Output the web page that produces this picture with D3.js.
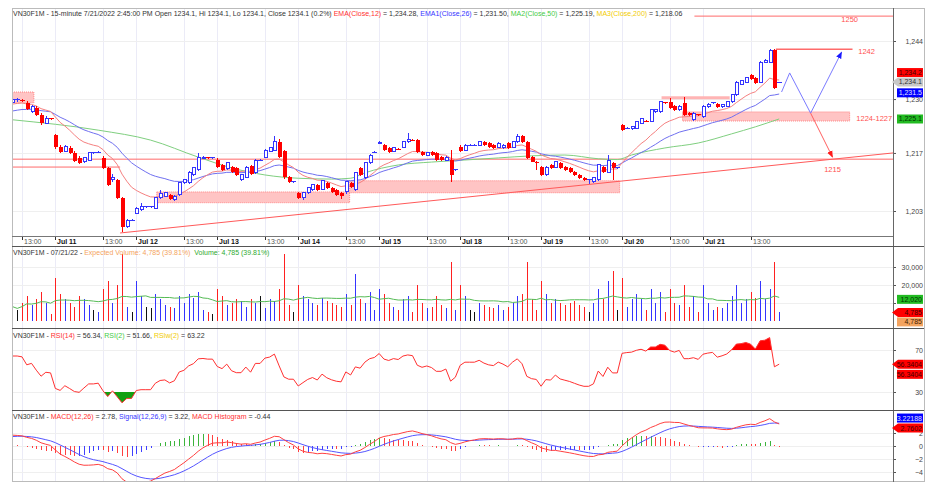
<!DOCTYPE html>
<html>
<head>
<meta charset="utf-8">
<script src="https://cdn.jsdelivr.net/npm/d3@7"></script>
<style>
  body { margin: 0; background: #fff; }
  svg { display: block; font-family: "Liberation Sans", Arial, sans-serif; }
  text { white-space: pre; }
</style>
</head>
<body>
<div id="chart"></div>
<script>
// 15-minute bars, Jul 8 11:00 .. Jul 21 14:45 (17 bars per session)
const opens = [
  1229.1, 1229.8, 1229.6, 1229.1, 1226.9, 1227.8, 1226.2, 1224.2, 1225.2,
  1221.3, 1218.4, 1217.4, 1218.2, 1217.0, 1215.8, 1214.9, 1215.3, 1217.0, 1217.2, 1215.8, 1213.4, 1210.5, 1210.5, 1206.2, 1199.2, 1200.8,
  1202.5, 1203.3, 1204.0, 1204.0, 1203.7, 1206.2, 1206.6, 1206.9, 1205.7, 1206.9, 1209.8, 1209.8, 1211.7, 1212.9, 1215.8, 1215.8, 1215.8,
  1215.3, 1214.1, 1213.2, 1213.6, 1213.4, 1210.5, 1211.2, 1213.9, 1212.2, 1215.3, 1216.0, 1217.4, 1217.7, 1219.7, 1217.5, 1211.2, 1210.0,
  1207.4, 1206.2, 1207.4, 1208.1, 1209.3, 1208.3, 1209.8, 1208.6, 1208.1, 1207.4, 1207.7, 1209.8, 1208.1, 1213.4, 1211.0, 1214.6, 1217.2,
  1219.4, 1218.9, 1218.2, 1217.4, 1217.9, 1218.4, 1219.7, 1220.1, 1220.1, 1217.2, 1216.5, 1217.2, 1217.0, 1216.0, 1215.3, 1215.3, 1212.9,
  1218.4, 1217.7, 1218.9, 1218.9, 1218.9, 1219.7, 1219.4, 1218.9, 1218.4, 1218.2, 1219.4, 1218.4, 1219.7, 1221.1, 1219.7, 1216.0, 1214.9,
  1213.6, 1211.7, 1214.1, 1213.6, 1214.6, 1213.6, 1213.4, 1212.4, 1211.7, 1211.0, 1210.5, 1210.0, 1210.5, 1213.6, 1212.4, 1214.6, 1213.4,
  1223.7, 1223.0, 1222.8, 1223.0, 1224.2, 1224.7, 1224.7, 1226.9, 1226.9, 1229.1, 1229.3, 1228.3, 1227.4, 1229.1, 1226.6, 1225.0, 1226.2,
  1225.7, 1228.1, 1229.1, 1228.8, 1228.1, 1228.3, 1229.3, 1231.0, 1233.6, 1234.1, 1235.8, 1235.1, 1234.1, 1238.9, 1238.9, 1241.8, 1234.1
];
const highs = [
  1230.3, 1230.3, 1230.1, 1229.6, 1228.6, 1228.3, 1226.6, 1225.9, 1225.4,
  1221.5, 1218.9, 1218.9, 1218.6, 1217.4, 1216.2, 1216.0, 1217.2, 1217.2, 1217.4, 1216.2, 1213.6, 1211.9, 1210.8, 1206.4, 1201.0, 1201.0,
  1204.0, 1205.0, 1204.3, 1204.2, 1206.4, 1208.0, 1207.6, 1207.2, 1206.9, 1210.0, 1210.8, 1212.6, 1213.6, 1217.0, 1216.2, 1216.0, 1216.0,
  1215.8, 1214.3, 1214.8, 1213.9, 1213.6, 1211.9, 1213.9, 1214.1, 1215.6, 1215.6, 1218.0, 1218.4, 1221.0, 1220.3, 1217.7, 1211.4, 1210.2,
  1207.6, 1207.6, 1208.8, 1209.5, 1209.5, 1210.5, 1210.0, 1208.8, 1208.3, 1207.6, 1210.3, 1210.0, 1212.4, 1213.6, 1214.8, 1216.7, 1217.4,
  1219.9, 1219.2, 1218.4, 1218.4, 1218.1, 1219.9, 1221.8, 1220.3, 1220.3, 1217.4, 1217.2, 1217.4, 1217.2, 1216.2, 1216.2, 1217.7, 1213.1,
  1218.9, 1219.2, 1219.1, 1219.1, 1220.0, 1219.9, 1219.6, 1219.1, 1219.6, 1219.1, 1219.6, 1219.9, 1221.5, 1221.3, 1219.9, 1216.2, 1215.1,
  1213.9, 1213.9, 1214.3, 1215.1, 1214.8, 1213.8, 1213.6, 1212.6, 1211.9, 1211.2, 1210.7, 1211.2, 1214.3, 1213.8, 1216.5, 1214.8, 1213.6,
  1224.0, 1223.2, 1223.5, 1224.7, 1225.4, 1224.9, 1227.6, 1227.6, 1229.5, 1229.3, 1230.3, 1228.5, 1228.5, 1230.5, 1226.8, 1226.8, 1226.4,
  1228.5, 1229.0, 1229.3, 1229.0, 1228.8, 1229.5, 1231.2, 1234.3, 1234.6, 1235.3, 1236.0, 1235.3, 1239.1, 1239.6, 1242.1, 1242.1, 1234.1
];
const lows = [
  1228.8, 1229.3, 1229.3, 1227.4, 1226.6, 1225.9, 1223.8, 1224.0, 1225.0,
  1218.0, 1216.9, 1217.2, 1216.7, 1214.8, 1214.3, 1214.6, 1215.1, 1216.7, 1216.9, 1213.1, 1209.0, 1210.0, 1205.9, 1198.0, 1198.8, 1200.6,
  1202.3, 1203.1, 1203.8, 1203.8, 1203.5, 1206.0, 1206.4, 1205.7, 1205.5, 1206.6, 1209.5, 1209.5, 1211.5, 1212.7, 1215.6, 1215.6, 1215.6,
  1213.4, 1212.7, 1213.0, 1212.2, 1211.5, 1210.3, 1211.0, 1211.7, 1212.0, 1215.1, 1215.8, 1217.2, 1217.5, 1215.8, 1210.8, 1209.8, 1209.8,
  1206.0, 1205.7, 1207.2, 1207.9, 1207.9, 1208.1, 1208.4, 1207.4, 1206.7, 1206.0, 1207.2, 1208.6, 1207.9, 1211.5, 1210.8, 1214.4, 1217.0,
  1219.2, 1217.5, 1217.0, 1217.2, 1217.7, 1218.2, 1219.5, 1219.9, 1217.0, 1216.3, 1216.3, 1216.3, 1215.1, 1215.1, 1215.1, 1210.0, 1212.7,
  1217.2, 1217.5, 1218.7, 1218.7, 1218.7, 1218.7, 1218.2, 1218.0, 1218.2, 1218.0, 1218.0, 1218.2, 1219.5, 1219.5, 1215.6, 1214.7, 1212.9,
  1211.5, 1211.5, 1213.2, 1213.4, 1213.2, 1212.7, 1212.2, 1211.5, 1210.8, 1210.3, 1209.5, 1209.8, 1210.3, 1212.2, 1212.2, 1210.5, 1213.2,
  1222.3, 1222.8, 1222.6, 1222.8, 1224.0, 1224.5, 1224.5, 1226.7, 1226.7, 1228.9, 1227.6, 1227.2, 1227.2, 1226.0, 1226.0, 1224.8, 1226.0,
  1225.5, 1227.9, 1228.9, 1227.9, 1227.9, 1228.1, 1229.1, 1230.8, 1233.4, 1233.9, 1234.6, 1233.7, 1233.9, 1238.7, 1238.7, 1232.4, 1234.1
];
const closes = [
  1229.8, 1229.8, 1229.6, 1227.6, 1228.1, 1226.2, 1224.2, 1225.4, 1225.2,
  1218.4, 1217.2, 1218.6, 1217.0, 1215.1, 1214.6, 1215.8, 1217.0, 1217.0, 1217.2, 1213.4, 1209.3, 1211.0, 1206.2, 1199.2, 1200.8, 1200.8,
  1203.7, 1204.0, 1204.0, 1204.0, 1206.2, 1207.2, 1207.4, 1205.9, 1206.6, 1209.8, 1210.5, 1212.4, 1213.4, 1215.8, 1216.0, 1215.8, 1215.8,
  1213.6, 1212.9, 1214.6, 1212.4, 1211.7, 1211.7, 1213.6, 1211.9, 1215.3, 1215.3, 1217.7, 1218.2, 1219.7, 1216.0, 1211.2, 1210.0, 1210.0,
  1206.2, 1207.4, 1208.6, 1209.3, 1208.1, 1210.3, 1208.6, 1207.6, 1206.9, 1206.6, 1210.1, 1208.8, 1212.2, 1211.7, 1214.6, 1216.5, 1217.2,
  1219.6, 1217.7, 1217.2, 1218.2, 1217.9, 1219.7, 1220.3, 1220.1, 1217.2, 1216.5, 1217.0, 1216.5, 1215.3, 1215.3, 1216.0, 1211.7, 1212.9,
  1217.4, 1218.9, 1218.9, 1218.9, 1219.7, 1218.9, 1218.4, 1218.2, 1219.4, 1218.9, 1218.2, 1219.7, 1220.9, 1219.7, 1215.8, 1214.9, 1214.6,
  1211.7, 1213.6, 1213.4, 1214.9, 1213.4, 1212.9, 1212.4, 1211.7, 1211.0, 1210.5, 1210.5, 1211.0, 1214.1, 1212.4, 1215.3, 1213.4, 1213.4,
  1222.5, 1223.0, 1223.3, 1224.5, 1225.2, 1224.7, 1227.4, 1227.4, 1229.3, 1229.1, 1227.8, 1227.4, 1228.3, 1226.2, 1226.2, 1226.6, 1226.2,
  1228.3, 1228.8, 1229.1, 1228.1, 1228.6, 1229.3, 1231.0, 1234.1, 1234.4, 1235.1, 1234.8, 1233.9, 1238.9, 1239.4, 1241.6, 1232.7, 1234.1
];
const volumes = [
  8000, 6000, 10000, 14000, 9000, 12000, 16000, 10000, 4000,
  24000, 15000, 12000, 10000, 8000, 14000, 12000, 9000, 6000, 5000, 18000, 22000, 10000, 20000, 37000, 8000, 5000,
  22000, 14000, 8000, 7000, 15000, 12000, 9000, 8000, 7000, 14000, 10000, 15000, 13000, 16000, 6000, 5000, 4000,
  18000, 14000, 9000, 10000, 12000, 11000, 8000, 12000, 10000, 14000, 7000, 12000, 11000, 18000, 37000, 9000, 5000,
  20000, 14000, 12000, 10000, 9000, 13000, 11000, 10000, 9000, 8000, 15000, 9000, 26000, 12000, 10000, 16000, 6000,
  18000, 15000, 10000, 8000, 6000, 12000, 14000, 5000, 20000, 10000, 7000, 8000, 14000, 9000, 7000, 33000, 6000,
  20000, 14000, 6000, 5000, 10000, 9000, 8000, 7000, 9000, 6000, 8000, 10000, 14000, 15000, 33000, 12000, 6000,
  22000, 15000, 10000, 12000, 10000, 9000, 10000, 11000, 9000, 8000, 5000, 10000, 18000, 12000, 22000, 28000, 6000,
  24000, 8000, 12000, 15000, 12000, 6000, 18000, 10000, 16000, 5000, 18000, 10000, 9000, 20000, 8000, 14000, 5000,
  20000, 10000, 6000, 8000, 7000, 10000, 14000, 20000, 10000, 12000, 16000, 13000, 22000, 12000, 18000, 33000, 4785
];
// time axis labels: bar index, text, bold
const timeTicks = [
  [2, '13:00', 0], [9, 'Jul 11', 1], [19, '13:00', 0], [26, 'Jul 12', 1], [36, '13:00', 0],
  [43, 'Jul 13', 1], [53, '13:00', 0], [60, 'Jul 14', 1], [70, '13:00', 0], [77, 'Jul 15', 1],
  [87, '13:00', 0], [94, 'Jul 18', 1], [104, '13:00', 0], [111, 'Jul 19', 1], [121, '13:00', 0],
  [128, 'Jul 20', 1], [138, '13:00', 0], [145, 'Jul 21', 1], [155, '13:00', 0]
];
const priceTicks = [1203, 1217, 1230, 1244];
const volTicks = [10000, 20000, 30000];
const volTickText = [20000, 30000];   // 10,000 sits under the MA tag
const rsiTicks = [30, 70];
const macdTicks = [-4, -2, 0, 2];
// MA2(Close,50): [bar, value]
const ma50Pts = [
  [0, 1225.0], [18, 1222.5], [29, 1220.1], [39, 1216.0], [46, 1213.4], [53, 1211.7], [60, 1210.9],
  [67, 1210.7], [71, 1210.9], [74, 1212.2], [81, 1214.1], [88, 1214.8], [95, 1215.3], [102, 1215.8],
  [109, 1216.3], [116, 1216.5], [123, 1215.6], [127, 1215.4], [130, 1216.5], [137, 1218.2],
  [144, 1219.4], [151, 1221.6], [156, 1223.3], [161, 1225.2]
];
// indicator starting values read at the left edge
const ema12Start = 1228.6, ema26Start = 1226.9, signalStart = 1.4;
const rsiStartGain = 0.9, rsiStartLoss = 0.5;
// drawn annotations
const zones = [[-0.1, 4.5, 1229.1, 1231.7], [30.3, 70.8, 1205.0, 1207.6], [70.8, 127.5, 1207.4, 1210.3], [140.7, 175.8, 1224.7, 1226.9]];
const levels = [[143.2, 184.9, 1250.0, 1], [160.3, 176.4, 1242.0, 2], [136.3, 150.6, 1230.3, 3], [-0.1, 184.9, 1215.5, 1], [-0.1, 22.6, 1213.6, 1]];
const trendLine = [[22.6, 1197.7], [184.9, 1217.0]];
const blueZigzag = [[161.5, 1231.7], [163.2, 1236.3], [167.6, 1226.6], [174.1, 1241.3]];
const redArrow = [[167.6, 1226.6], [172.2, 1216.0]];
const levelLabels = [[175.8, 1249.2, '1250', 'middle'], [177.6, 1241.6, '1242', 'start'], [177.2, 1225.4, '1224-1227', 'start'], [172.2, 1213.0, '1215', 'middle']];

const W = 930, H = 483, L = 12, R = 893;
const n = closes.length;
const svg = d3.select('#chart').append('svg').attr('width', W).attr('height', H);

const x = d3.scaleLinear().domain([-0.1, 184.9]).range([L, R]);
const yP = d3.scaleLinear().domain([1203, 1244]).range([211, 41]);
const yV = d3.scaleLinear().domain([0, 30000]).range([321, 267]);
const yR = d3.scaleLinear().domain([30, 70]).range([392, 350]);
const yM = d3.scaleLinear().domain([-4, 2]).range([472, 433]);
const panels = [
  {id: 'pm', top: 9, bottom: 236, y: yP, ticks: priceTicks, labels: priceTicks, fmt: d3.format(',')},
  {id: 'pv', top: 246, bottom: 328, y: yV, ticks: volTicks, labels: volTickText, fmt: d3.format(',')},
  {id: 'pr', top: 328, bottom: 410, y: yR, ticks: rsiTicks, labels: rsiTicks, fmt: d3.format('d')},
  {id: 'pd', top: 410, bottom: 481, y: yM, ticks: macdTicks, labels: macdTicks, fmt: d3.format('d')}
];

// indicators
const ema = (vals, len, start) => {
  const k = 2 / (len + 1)
  let e = start
  return vals.map(v => (e = e + k * (v - e)))
}
const ema12 = ema(closes, 12, ema12Start)
const ema26 = ema(closes, 26, ema26Start)
const macd = ema12.map((v, i) => v - ema26[i])
const signal = ema(macd, 9, signalStart)
const hist = macd.map((v, i) => v - signal[i])
let ag = rsiStartGain, al = rsiStartLoss
const rsi = closes.map((c, i) => {
  const ch = i === 0 ? 0 : c - closes[i - 1]
  ag = (ag * 13 + Math.max(ch, 0)) / 14
  al = (al * 13 + Math.max(-ch, 0)) / 14
  return 100 - 100 / (1 + ag / al)
})
const volMa = volumes.map((v, i) => d3.mean(volumes.slice(Math.max(0, i - 19), i + 1)))

// frame, grid, clip paths
const defs = svg.append('defs')
panels.forEach(p => {
  defs.append('clipPath').attr('id', 'c' + p.id).append('rect')
    .attr('x', L).attr('y', p.top).attr('width', R - L).attr('height', p.bottom - p.top)
  const g = svg.append('g')
  timeTicks.forEach(t => {
    g.append('line').attr('x1', Math.round(x(t[0])) + 0.5).attr('x2', Math.round(x(t[0])) + 0.5)
      .attr('y1', p.top).attr('y2', p.bottom).attr('stroke', '#ebebf7')
  })
  p.ticks.forEach(v => {
    g.append('line').attr('x1', L).attr('x2', R).attr('y1', Math.round(p.y(v)) + 0.5).attr('y2', Math.round(p.y(v)) + 0.5)
      .attr('stroke', '#efefef')
  })
  const ax = d3.axisRight(p.y).tickValues(p.ticks).tickSize(3)
    .tickFormat(v => p.labels.includes(v) ? p.fmt(v) : '')
  const ag2 = svg.append('g').attr('transform', `translate(${R},0)`).call(ax)
  ag2.select('.domain').remove()
  ag2.selectAll('line').attr('stroke', '#555')
  ag2.selectAll('text').attr('x', 30).attr('text-anchor', 'end').attr('fill', '#444')
    .style('font-size', '7px').attr('dy', '0.32em')
  ag2.selectAll('text').filter(function () { return this.textContent === '' }).remove()
})

const main = svg.append('g').attr('clip-path', 'url(#cpm)')

// zones and level lines
main.selectAll('rect.zone').data(zones).enter().append('rect')
  .attr('x', d => x(d[0])).attr('width', d => x(d[1]) - x(d[0]))
  .attr('y', d => yP(d[3])).attr('height', d => yP(d[2]) - yP(d[3]))
  .attr('fill', '#ffc4c4').attr('stroke', '#ff7070').attr('stroke-dasharray', '1,1').attr('stroke-width', 0.8)
main.selectAll('line.lvl').data(levels).enter().append('line')
  .attr('x1', d => x(d[0])).attr('x2', d => x(d[1]))
  .attr('y1', d => yP(d[2])).attr('y2', d => yP(d[2]))
  .attr('stroke', d => d[3] === 3 ? '#ffb4b4' : '#ff6a6a')
  .attr('stroke-width', d => d[3] === 1 ? 1 : d[3] === 2 ? 1.6 : 3)

// moving averages
const lineGen = (arr) => d3.line().x((d, i) => x(i)).y(d => yP(d))(arr)
main.append('path').attr('d', d3.line().x(d => x(d[0])).y(d => yP(d[1])).curve(d3.curveMonotoneX)(ma50Pts))
  .attr('fill', 'none').attr('stroke', '#7fcf7f').attr('stroke-width', 1)
main.append('path').attr('d', lineGen(ema26)).attr('fill', 'none').attr('stroke', '#7070f0').attr('stroke-width', 1)
main.append('path').attr('d', lineGen(ema12)).attr('fill', 'none').attr('stroke', '#f58080').attr('stroke-width', 1)

// candles
const dir = i => closes[i] > opens[i] ? 1 : closes[i] < opens[i] ? -1 : 0
const trend = i => dir(i) !== 0 ? dir(i) : (i > 0 ? Math.sign(closes[i] - closes[i - 1]) : 0)
const col = i => trend(i) < 0 ? '#ff0000' : '#3434ff'
const cg = main.append('g').attr('shape-rendering', 'crispEdges')
d3.range(n).forEach(i => {
  const cx = Math.round(x(i))
  cg.append('line').attr('x1', cx + 0.5).attr('x2', cx + 0.5).attr('y1', yP(highs[i])).attr('y2', yP(lows[i]))
    .attr('stroke', col(i))
  const top = yP(Math.max(opens[i], closes[i])), bot = yP(Math.min(opens[i], closes[i]))
  if (dir(i) > 0) {
    cg.append('rect').attr('x', cx - 1).attr('width', 3).attr('y', top).attr('height', Math.max(bot - top, 1))
      .attr('fill', '#fff').attr('stroke', col(i))
  } else if (dir(i) < 0) {
    cg.append('rect').attr('x', cx - 1.5).attr('width', 4).attr('y', top).attr('height', Math.max(bot - top, 1))
      .attr('fill', col(i))
  } else {
    cg.append('line').attr('x1', cx - 2).attr('x2', cx + 3).attr('y1', top).attr('y2', top).attr('stroke', col(i))
  }
})

// trend line and projected path
const ptLine = d3.line().x(d => x(d[0])).y(d => yP(d[1]))
main.append('path').attr('d', ptLine(trendLine)).attr('stroke', '#ff5a5a').attr('fill', 'none')
defs.append('marker').attr('id', 'ab').attr('viewBox', '0 0 10 10').attr('refX', 9).attr('refY', 5)
  .attr('markerWidth', 7).attr('markerHeight', 7).attr('orient', 'auto')
  .append('path').attr('d', 'M0,1L10,5L0,9Z').attr('fill', '#1a1aff')
defs.append('marker').attr('id', 'ar').attr('viewBox', '0 0 10 10').attr('refX', 9).attr('refY', 5)
  .attr('markerWidth', 7).attr('markerHeight', 7).attr('orient', 'auto')
  .append('path').attr('d', 'M0,1L10,5L0,9Z').attr('fill', '#ff1a1a')
main.append('path').attr('d', ptLine(blueZigzag)).attr('stroke', '#7a7aff').attr('fill', 'none').attr('marker-end', 'url(#ab)')
main.append('path').attr('d', ptLine(redArrow)).attr('stroke', '#ff6060').attr('fill', 'none').attr('marker-end', 'url(#ar)')
levelLabels.forEach(d => {
  main.append('text').attr('x', x(d[0])).attr('y', yP(d[1])).attr('dy', '0.35em').attr('text-anchor', d[3])
    .attr('fill', '#ff5050').style('font-size', '7.5px').text(d[2])
})

// volume
const vg = svg.append('g').attr('clip-path', 'url(#cpv)').attr('shape-rendering', 'crispEdges')
d3.range(n).forEach(i => {
  const cx = Math.round(x(i)) + 0.5
  vg.append('line').attr('x1', cx).attr('x2', cx).attr('y1', yV(0)).attr('y2', yV(volumes[i]))
    .attr('stroke', trend(i) > 0 ? '#3434ff' : trend(i) < 0 ? '#ff2020' : '#111')
})
svg.append('path').attr('clip-path', 'url(#cpv)')
  .attr('d', d3.line().x((d, i) => x(i)).y(d => yV(d))(volMa)).attr('fill', 'none').attr('stroke', '#55bb55')

// RSI with fills above 70 and below 30
const rg = svg.append('g').attr('clip-path', 'url(#cpr)')
defs.append('clipPath').attr('id', 'above70').append('rect').attr('x', L).attr('y', 328).attr('width', R - L).attr('height', yR(70) - 328)
defs.append('clipPath').attr('id', 'below30').append('rect').attr('x', L).attr('y', yR(30)).attr('width', R - L).attr('height', 410 - yR(30))
rg.append('path').attr('clip-path', 'url(#above70)')
  .attr('d', d3.area().x((d, i) => x(i)).y0(yR(70)).y1(d => yR(d))(rsi)).attr('fill', '#ff0000')
rg.append('path').attr('clip-path', 'url(#below30)')
  .attr('d', d3.area().x((d, i) => x(i)).y0(yR(30)).y1(d => yR(d))(rsi)).attr('fill', '#12a012')
rg.append('path').attr('d', d3.line().x((d, i) => x(i)).y(d => yR(d))(rsi)).attr('fill', 'none').attr('stroke', '#ff3030')

// MACD
const mg = svg.append('g').attr('clip-path', 'url(#cpd)')
d3.range(n).forEach(i => {
  const rising = i > 0 && hist[i] > hist[i - 1]
  const c = hist[i] >= 0 ? (rising ? '#3cb43c' : '#ff4040') : (rising ? '#4040ff' : '#ff4040')
  const cx = Math.round(x(i)) + 0.5
  mg.append('line').attr('x1', cx).attr('x2', cx).attr('y1', yM(0)).attr('y2', yM(hist[i])).attr('stroke', c)
    .attr('shape-rendering', 'crispEdges')
})
mg.append('path').attr('d', d3.line().x((d, i) => x(i)).y(d => yM(d))(signal)).attr('fill', 'none').attr('stroke', '#5555ff')
mg.append('path').attr('d', d3.line().x((d, i) => x(i)).y(d => yM(d))(macd)).attr('fill', 'none').attr('stroke', '#ff4040')

// borders and separators
const fr = svg.append('g').attr('shape-rendering', 'crispEdges')
fr.append('rect').attr('x', L + 0.5).attr('y', 8.5).attr('width', 924 - L).attr('height', 473).attr('fill', 'none').attr('stroke', '#bbb')
fr.append('line').attr('x1', R + 0.5).attr('x2', R + 0.5).attr('y1', 8).attr('y2', 482).attr('stroke', '#666')
;[236, 246, 328, 410].forEach(y => {
  fr.append('line').attr('x1', L).attr('x2', y === 236 ? R : 924).attr('y1', y + 0.5).attr('y2', y + 0.5).attr('stroke', y === 236 ? '#777' : '#555')
})

// time axis
const tg = svg.append('g')
timeTicks.forEach(t => {
  const tx = Math.round(x(t[0])) + 0.5
  tg.append('line').attr('x1', tx).attr('x2', tx).attr('y1', 237).attr('y2', 240).attr('stroke', '#333')
  tg.append('text').attr('x', tx + 1.5).attr('y', 243.5).text(t[1])
    .style('font-size', '7px').style('font-weight', t[2] ? 'bold' : 'normal').attr('fill', t[2] ? '#111' : '#555')
})

// panel titles: one text per panel, coloured runs as tspans
const title = (y, parts) => {
  const t = svg.append('text').attr('x', 13).attr('y', y).style('font-size', '7px')
  parts.forEach(p => t.append('tspan').attr('fill', p[1]).text(p[0]))
}
title(16, [['VN30F1M - 15-minute 7/21/2022 2:45:00 PM Open 1234.1, Hi 1234.1, Lo 1234.1, Close 1234.1 (0.2%) ', '#333'],
  ['EMA(Close,12)', '#ff3030'], [' = 1,234.28, ', '#333'], ['EMA1(Close,26)', '#3535ff'], [' = 1,231.50, ', '#333'],
  ['MA2(Close,50)', '#44cc44'], [' = 1,225.19, ', '#333'], ['MA3(Close,200)', '#f2cc00'], [' = 1,218.06', '#333']])
title(254.5, [['VN30F1M - 07/21/22 - ', '#333'], ['Expected Volume: 4,785 (39.81%)', '#f4a460'], ['  ', '#333'],
  ['Volume: 4,785 (39.81%)', '#2faa2f']])
title(338, [['VN30F1M - ', '#333'], ['RSI(14)', '#ff3030'], [' = 56.34, ', '#333'], ['RSI(2)', '#44cc44'],
  [' = 51.66, ', '#333'], ['RSIw(2)', '#f2cc00'], [' = 63.22', '#333']])
title(419, [['VN30F1M - ', '#333'], ['MACD(12,26)', '#ff3030'], [' = 2.78, ', '#333'], ['Signal(12,26,9)', '#3535ff'],
  [' = 3.22, ', '#333'], ['MACD Histogram', '#ff3030'], [' = -0.44', '#333']])

// value tags on the right axis
const tag = (y, txt, fill, color, arrow) => {
  const g = svg.append('g')
  const h = 4.5
  g.append('path').attr('d', arrow
    ? `M${R - 1},${y}L${R + 5},${y - h}L923,${y - h}L923,${y + h}L${R + 5},${y + h}Z`
    : `M${R + 4},${y - h}L923,${y - h}L923,${y + h}L${R + 4},${y + h}Z`).attr('fill', fill)
  g.append('text').attr('x', 922).attr('y', y).attr('dy', '0.35em').attr('text-anchor', 'end')
    .style('font-size', '7px').attr('fill', color).text(txt)
}
const lastC = closes[n - 1]
tag(yP(lastC) - 9.5, '1,234.2', '#ff0000', '#400', false)
tag(yP(lastC), '1,234.1', '#c8c8c8', '#333', true)
tag(yP(1231.5), '1,231.5', '#0000ff', '#e0e0ff', false)
tag(yP(1225.19), '1,225.1', '#22bb22', '#030', false)
tag(yV(12020), '12,020', '#22bb22', '#030', false)
tag(yV(volumes[n - 1]), '4,785', '#ff0000', '#400', true)
tag(yV(volumes[n - 1]) + 9.5, '4,785', '#f4a460', '#420', false)
tag(yR(56.34), '56.3404', '#ff0000', '#400', true)
tag(yR(56.34) + 10, '56.3404', '#ff0000', '#400', false)
tag(yM(2.7602), '2.7602', '#ff0000', '#400', true)
tag(yM(2.7602) - 10, '3.22188', '#0000ff', '#e0e0ff', false)
</script>
</body>
</html>
